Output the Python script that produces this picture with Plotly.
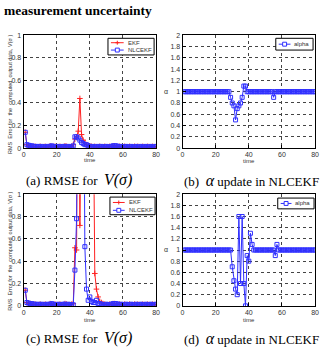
import plotly.graph_objects as go

# ---------------- data ----------------
time = list(range(1, 81))

# (a) RMSE, first scenario
a_ekf = [0.14, 0.03, 0.02, 0.02, 0.015, 0.01, 0.015, 0.01, 0.01, 0.015,
         0.01, 0.01, 0.015, 0.01, 0.01, 0.02, 0.015, 0.01, 0.015, 0.01,
         0.01, 0.015, 0.01, 0.01, 0.02, 0.015, 0.01, 0.01, 0.015, 0.03,
         0.08, 0.10, 0.15, 0.44, 0.12, 0.07, 0.05, 0.03, 0.02, 0.02,
         0.015, 0.01, 0.015, 0.01, 0.01, 0.015, 0.01, 0.01, 0.015, 0.01,
         0.01, 0.015, 0.01, 0.02, 0.02, 0.015, 0.01, 0.015, 0.01, 0.01,
         0.015, 0.01, 0.01, 0.015, 0.01, 0.01, 0.015, 0.01, 0.015, 0.01,
         0.01, 0.015, 0.01, 0.01, 0.015, 0.01, 0.01, 0.015, 0.01, 0.01]
a_nlcekf = [0.14, 0.03, 0.025, 0.02, 0.02, 0.015, 0.015, 0.01, 0.015, 0.01,
            0.015, 0.01, 0.01, 0.015, 0.01, 0.015, 0.02, 0.015, 0.01, 0.01,
            0.015, 0.01, 0.01, 0.015, 0.015, 0.01, 0.015, 0.01, 0.01, 0.02,
            0.10, 0.10, 0.09, 0.07, 0.05, 0.04, 0.03, 0.03, 0.02, 0.015,
            0.01, 0.015, 0.01, 0.01, 0.015, 0.01, 0.015, 0.01, 0.01, 0.015,
            0.01, 0.01, 0.015, 0.02, 0.02, 0.02, 0.015, 0.01, 0.015, 0.01,
            0.01, 0.015, 0.01, 0.01, 0.015, 0.01, 0.01, 0.015, 0.01, 0.01,
            0.015, 0.01, 0.01, 0.015, 0.01, 0.01, 0.015, 0.01, 0.01, 0.015]

# (b) alpha update, first scenario
b_alpha = [1.0] * 28 + [0.9, 0.8, 0.75, 0.5, 0.7, 0.75, 0.8, 0.9, 1.1, 1.1] \
          + [1.0] * 16 + [0.9] + [1.0] * 25

# (c) RMSE, second scenario
c_ekf = [0.14, 0.03, 0.02, 0.02, 0.015, 0.01, 0.015, 0.01, 0.01, 0.015,
         0.01, 0.01, 0.015, 0.01, 0.01, 0.02, 0.015, 0.01, 0.015, 0.01,
         0.01, 0.015, 0.01, 0.01, 0.02, 0.015, 0.01, 0.01, 0.015, 0.02,
         0.52, 0.50, 3.0, 0.72, 4.0, 3.5, 4.5, 3.0, 4.0, 3.0,
         2.5, 2.0, 0.29, 0.15, 0.08, 0.04, 0.03, 0.02, 0.015, 0.01,
         0.01, 0.015, 0.01, 0.02, 0.02, 0.015, 0.01, 0.015, 0.01, 0.01,
         0.015, 0.01, 0.01, 0.015, 0.01, 0.01, 0.015, 0.01, 0.015, 0.01,
         0.01, 0.015, 0.01, 0.01, 0.015, 0.01, 0.01, 0.015, 0.01, 0.01]
c_nlcekf = [0.14, 0.03, 0.025, 0.02, 0.02, 0.015, 0.015, 0.01, 0.015, 0.01,
            0.015, 0.01, 0.01, 0.015, 0.01, 0.015, 0.02, 0.015, 0.01, 0.01,
            0.015, 0.01, 0.01, 0.015, 0.015, 0.01, 0.015, 0.01, 0.01, 0.01,
            0.32, 0.78, 3.0, 4.0, 2.5, 3.0, 0.53, 0.15, 0.05, 0.08,
            0.04, 0.03, 0.03, 0.05, 0.02, 0.02, 0.015, 0.01, 0.01, 0.015,
            0.01, 0.01, 0.015, 0.02, 0.02, 0.02, 0.015, 0.01, 0.015, 0.01,
            0.01, 0.015, 0.01, 0.01, 0.015, 0.01, 0.01, 0.015, 0.01, 0.01,
            0.015, 0.01, 0.01, 0.015, 0.01, 0.01, 0.015, 0.01, 0.01, 0.015]

# (d) alpha update, second scenario
d_alpha = [1.0] * 29 + [0.7, 0.45, 0.3, 0.2, 1.6, 0.4, 1.6, 0.4, 0.0,
                        0.9, 0.8, 1.3, 1.1] \
          + [1.0] * 13 + [0.9, 1.1] + [1.0] * 23

x_ticks = [0, 20, 40, 60, 80]
rmse_ticks = [0, 0.2, 0.4, 0.6, 0.8, 1.0]
rmse_labels = ["0", "0.2", "0.4", "0.6", "0.8", "1"]
alpha_ticks = [0, 0.2, 0.4, 0.6, 0.8, 1.0, 1.2, 1.4, 1.6, 1.8, 2.0]
alpha_labels = ["0", "0.2", "0.4", "0.6", "0.8", "1", "1.2", "1.4", "1.6", "1.8", "2"]

# ---------------- layout helpers ----------------
W, H = 321, 352
def px(x):
    return x / W
def py(y):
    return 1 - y / H
def xd(a, b):
    return [a / W, b / W]
def yd(top, bot):
    return [1 - bot / H, 1 - top / H]

RED = "#ff2020"
BLUE = "#3030ff"
tick_font = dict(family="Liberation Sans, Arial, sans-serif", size=7, color="#333333")

fig = go.Figure()

def ekf(y, xa, ya):
    fig.add_trace(go.Scatter(x=time, y=y, xaxis=xa, yaxis=ya, name="EKF",
                             mode="lines+markers", showlegend=False,
                             line=dict(color=RED, width=1),
                             marker=dict(symbol="cross-thin", size=4,
                                         line=dict(color=RED, width=1))))
def nlc(y, xa, ya, name="NLCEKF"):
    fig.add_trace(go.Scatter(x=time, y=y, xaxis=xa, yaxis=ya, name=name,
                             mode="lines+markers", showlegend=False,
                             line=dict(color=BLUE, width=1),
                             marker=dict(symbol="square-open", size=4,
                                         color=BLUE, line=dict(color=BLUE, width=1))))

ekf(a_ekf, "x", "y")
nlc(a_nlcekf, "x", "y")
nlc(b_alpha, "x2", "y2", "alpha")
ekf(c_ekf, "x3", "y3")
nlc(c_nlcekf, "x3", "y3")
nlc(d_alpha, "x4", "y4", "alpha")

axis_common = dict(showline=True, linecolor="black", linewidth=1, mirror=True,
                   ticks="inside", ticklen=3, tickcolor="black",
                   showgrid=True, gridcolor="#444444", griddash="dot", gridwidth=1,
                   zeroline=False, tickfont=tick_font)

def xaxis(dom, anchor):
    return dict(axis_common, domain=dom, anchor=anchor, range=[0, 80],
                tickvals=x_ticks, ticktext=[str(v) for v in x_ticks])
def yaxis(dom, anchor, rng, tv, tt):
    return dict(axis_common, domain=dom, anchor=anchor, range=rng,
                tickvals=tv, ticktext=tt)

LX, RX = xd(22, 157), xd(184, 319)
TY, BY = yd(32, 147), yd(194, 308)

fig.update_layout(
    width=W, height=H, margin=dict(l=0, r=0, t=0, b=0),
    paper_bgcolor="white", plot_bgcolor="white", showlegend=False,
    xaxis=xaxis(LX, "y"), yaxis=yaxis(TY, "x", [0, 1], rmse_ticks, rmse_labels),
    xaxis2=xaxis(RX, "y2"), yaxis2=yaxis(TY, "x2", [0, 2], alpha_ticks, alpha_labels),
    xaxis3=xaxis(LX, "y3"), yaxis3=yaxis(BY, "x3", [0, 1], rmse_ticks, rmse_labels),
    xaxis4=xaxis(RX, "y4"), yaxis4=yaxis(BY, "x4", [0, 2], alpha_ticks, alpha_labels),
)

serif = "Liberation Serif, Times New Roman, serif"
small = dict(family="Liberation Sans, Arial, sans-serif", size=6, color="#333333")

def ann(text, x, y, font, **kw):
    fig.add_annotation(text=text, x=px(x), y=py(y), xref="paper", yref="paper",
                       showarrow=False, font=font, **kw)

def shape(**kw):
    fig.add_shape(xref="paper", yref="paper", **kw)

# ---- small legend boxes (drawn like the MATLAB legends) ----
def legend_box(x0, y0, x1, y1):
    shape(type="rect", x0=px(x0), y0=py(y0), x1=px(x1), y1=py(y1),
          line=dict(color="black", width=1), fillcolor="white", layer="above")

def legend_entry(xl0, xl1, yrow, label, kind):
    color = RED if kind == "ekf" else BLUE
    shape(type="line", x0=px(xl0), x1=px(xl1), y0=py(yrow), y1=py(yrow),
          line=dict(color=color, width=1), layer="above")
    xm = (xl0 + xl1) / 2
    if kind == "ekf":
        shape(type="line", x0=px(xm - 2), x1=px(xm + 2), y0=py(yrow), y1=py(yrow),
              line=dict(color=color, width=1), layer="above")
        shape(type="line", x0=px(xm), x1=px(xm), y0=py(yrow - 2), y1=py(yrow + 2),
              line=dict(color=color, width=1), layer="above")
    else:
        shape(type="rect", x0=px(xm - 2), x1=px(xm + 2), y0=py(yrow - 2), y1=py(yrow + 2),
              line=dict(color=color, width=1), fillcolor="white", layer="above")
    ann(label, xl1 + 2, yrow, dict(small, size=6), xanchor="left", yanchor="middle")

legend_box(108, 35, 155, 52)
legend_entry(111, 124, 39.5, "EKF", "ekf")
legend_entry(111, 124, 47.0, "NLCEKF", "nlc")

legend_box(279, 35, 317, 47)
legend_entry(282, 294, 41, "alpha", "nlc")

legend_box(110, 197, 156, 215)
legend_entry(113, 125, 202.5, "EKF", "ekf")
legend_entry(113, 125, 210.5, "NLCEKF", "nlc")

legend_box(281, 198, 318, 209)
legend_entry(284, 295, 203.5, "alpha", "nlc")

# ---- titles / captions / axis labels ----
ann("<b>measurement uncertainty</b>", 0, 7, dict(family=serif, size=13.5, color="black"),
    xanchor="left", yanchor="middle")

cap = dict(family=serif, size=13, color="black")
big = '<span style="font-size:16px"><i>%s</i></span>'
ann("(a) RMSE for  " + big % "V(σ)", 22, 180, cap, xanchor="left", yanchor="middle")
ann("(b)  " + big % "α" + " update in NLCEKF", 183, 180, cap, xanchor="left", yanchor="middle")
ann("(c) RMSE for  " + big % "V(σ)", 22, 341, cap, xanchor="left", yanchor="middle")
ann("(d)  " + big % "α" + " update in NLCEKF", 183, 341, cap, xanchor="left", yanchor="middle")

ylab = "RMS  Error for  the  computed  output data, V(σ )"
ann(ylab, 8, 92, dict(small, size=5.5), textangle=-90, xanchor="center", yanchor="middle")
ann(ylab, 8, 252, dict(small, size=5.5), textangle=-90, xanchor="center", yanchor="middle")
ann("α", 167, 89, dict(small, size=7), xanchor="center", yanchor="middle")
ann("α", 167, 250, dict(small, size=7), xanchor="center", yanchor="middle")
for xc, yc in [(89.5, 159), (251.5, 160), (89.5, 322), (251.5, 322)]:
    ann("time", xc, yc, small, xanchor="center", yanchor="middle")

fig.write_html("out.html")
